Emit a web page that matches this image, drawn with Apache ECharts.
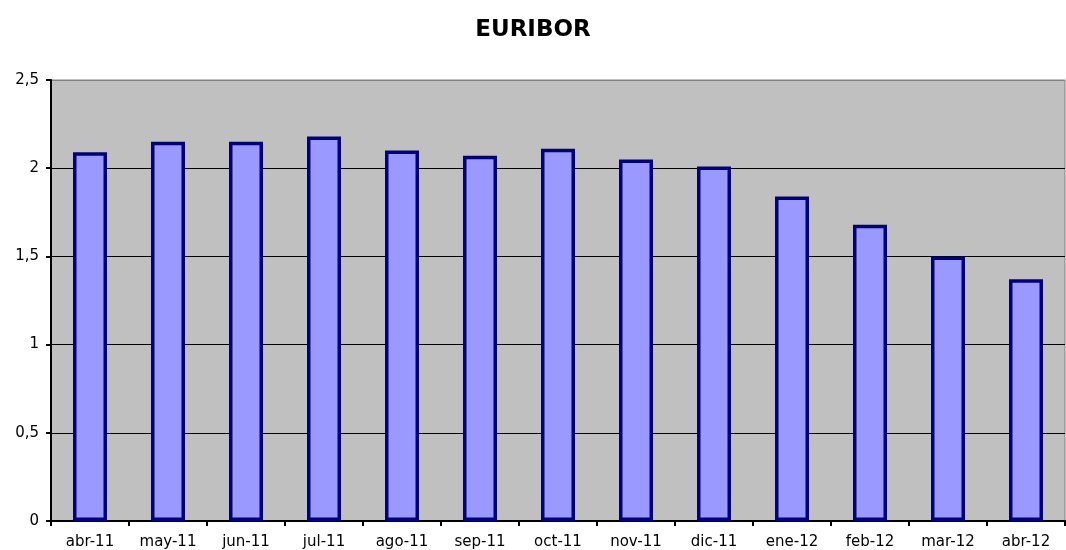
<!DOCTYPE html>
<html>
<head>
<meta charset="utf-8">
<script src="https://cdn.jsdelivr.net/npm/echarts@6/dist/echarts.min.js"></script>
<style>
  html, body { margin: 0; padding: 0; background: #fff; }
  #chart { width: 1066px; height: 550px; }
</style>
</head>
<body>
<div id="chart"></div>
<script>
var categories = ['abr-11', 'may-11', 'jun-11', 'jul-11', 'ago-11', 'sep-11', 'oct-11',
  'nov-11', 'dic-11', 'ene-12', 'feb-12', 'mar-12', 'abr-12'];
var euribor = [2.09, 2.15, 2.15, 2.18, 2.10, 2.07, 2.11, 2.05, 2.01, 1.84, 1.68, 1.50, 1.37];

var chart = echarts.init(document.getElementById('chart'));
chart.setOption({
  animation: false,
  title: {
    text: 'EURIBOR',
    left: 'center',
    top: 14,
    textStyle: { fontFamily: 'DejaVu Sans', fontSize: 23, fontWeight: 'bold', color: '#000' }
  },
  grid: {
    left: 51, right: 1, top: 80, bottom: 29,
    show: true,
    backgroundColor: '#C0C0C0',
    borderColor: '#808080',
    borderWidth: 1
  },
  xAxis: {
    type: 'category',
    data: categories,
    axisLine: { lineStyle: { color: '#000', width: 2 } },
    axisTick: { show: true, length: 5, lineStyle: { color: '#000', width: 2 } },
    axisLabel: { fontFamily: 'DejaVu Sans', fontSize: 15, color: '#000', margin: 14, interval: 0 }
  },
  yAxis: {
    type: 'value',
    min: 0, max: 2.5, interval: 0.5,
    axisLine: { show: true, lineStyle: { color: '#000', width: 2 } },
    axisTick: { show: true, length: 5, lineStyle: { color: '#000', width: 2 } },
    splitLine: { lineStyle: { color: ['#000', '#000', '#000', '#000', '#000', '#808080'], width: 1 } },
    axisLabel: {
      fontFamily: 'DejaVu Sans', fontSize: 15, color: '#000', margin: 12,
      formatter: function (v) { return String(v).replace('.', ','); }
    }
  },
  series: [{
    type: 'bar',
    data: euribor,
    barWidth: 34,
    itemStyle: { color: '#9999FF', borderColor: '#000080', borderWidth: 3.5 }
  }]
});
</script>
</body>
</html>
